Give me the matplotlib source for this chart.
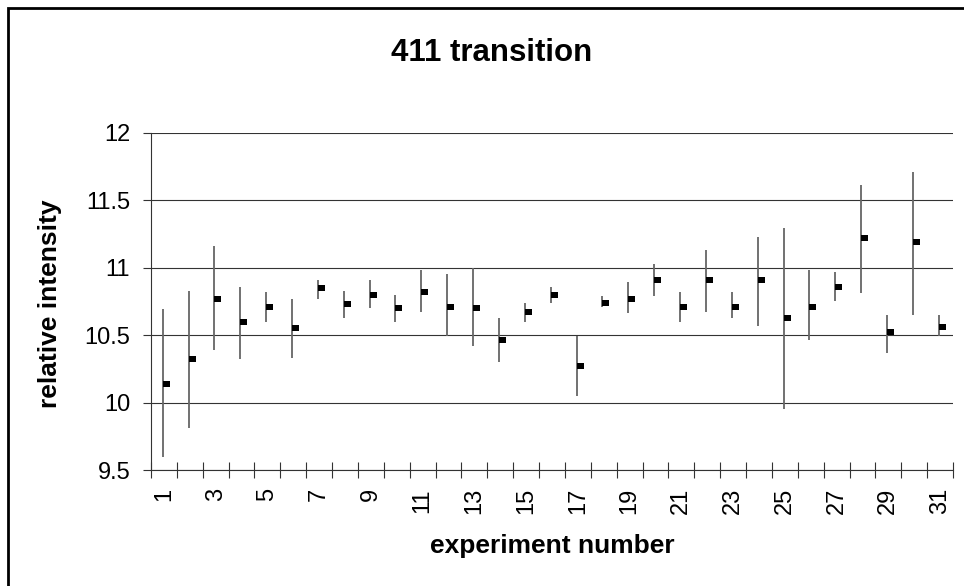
import numpy as np
import matplotlib.pyplot as plt
from matplotlib.path import Path
from matplotlib.patches import Rectangle

plt.rcParams['font.family'] = ['Liberation Sans', 'DejaVu Sans']

# data (high / low / close per experiment)
experiment = np.arange(1, 32)
high = [10.69, 10.83, 11.16, 10.86, 10.82, 10.77, 10.91, 10.83, 10.91, 10.80,
        10.98, 10.95, 11.00, 10.63, 10.74, 10.86, 10.49, 10.79, 10.89, 11.03,
        10.82, 11.13, 10.82, 11.23, 11.29, 10.98, 10.97, 11.61, 10.65, 11.71,
        10.65]
low = [9.60, 9.81, 10.39, 10.32, 10.60, 10.33, 10.77, 10.63, 10.70, 10.60,
       10.67, 10.49, 10.42, 10.30, 10.60, 10.74, 10.05, 10.71, 10.66, 10.79,
       10.60, 10.67, 10.63, 10.57, 9.95, 10.46, 10.75, 10.81, 10.37, 10.65,
       10.49]
close = [10.14, 10.32, 10.77, 10.60, 10.71, 10.55, 10.85, 10.73, 10.80, 10.70,
         10.82, 10.71, 10.70, 10.46, 10.67, 10.80, 10.27, 10.74, 10.77, 10.91,
         10.71, 10.91, 10.71, 10.91, 10.63, 10.71, 10.86, 11.22, 10.52, 11.19,
         10.56]

yticks = [9.5, 10, 10.5, 11, 11.5, 12]
ytick_labels = ['9.5', '10', '10.5', '11', '11.5', '12']
xtick_pos = np.arange(1, 32, 2)
xtick_labels = [str(v) for v in xtick_pos]

W, H = 964, 586
fig = plt.figure(figsize=(W / 100, H / 100), dpi=100)
ax = fig.add_axes([151 / W, 1 - 470 / H, (953 - 151) / W, (470 - 132.7) / H])

# high-low lines
ax.vlines(experiment - 0.05, low, high, color='#666666', lw=1.3, zorder=3)

# close value: small block sticking out to the right of the line
tick_path = Path([(0, -0.4), (1, -0.4), (1, 0.4), (0, 0.4), (0, -0.4)], closed=True)
ax.plot(experiment - 0.05, close, ls='none', marker=tick_path, ms=10.5,
        color='black', mew=0, zorder=4)

ax.set_xlim(0.5, 31.5)
ax.set_ylim(9.5, 12)
ax.set_yticks(yticks, ytick_labels)
ax.set_xticks(xtick_pos, xtick_labels, rotation=90)
ax.set_xticks(np.arange(0.5, 32), minor=True)

ax.tick_params(axis='x', which='major', length=0, pad=13, labelsize=17)
ax.tick_params(axis='x', which='minor', direction='inout', length=11, width=0.8, color='#333333')
ax.tick_params(axis='y', direction='out', length=6, width=0.8, pad=9, labelsize=17, color='#333333')

ax.grid(axis='y', color='#333333', lw=0.8)
ax.set_axisbelow(True)
for side in ['top', 'right']:
    ax.spines[side].set_visible(False)
for side in ['left', 'bottom']:
    ax.spines[side].set_color('#333333')
    ax.spines[side].set_linewidth(0.8)

fig.text(492 / W, 1 - 61 / H, '411 transition', ha='center', va='baseline',
         fontsize=22.5, fontweight='bold')
fig.text(50 / W, 1 - 304 / H, 'relative intensity', ha='center', va='center',
         rotation=90, fontsize=19, fontweight='bold')
fig.text(552 / W, 1 - 553 / H, 'experiment number', ha='center', va='baseline',
         fontsize=19, fontweight='bold')

# chart border (right and bottom edges fall outside the picture)
fig.patches.append(Rectangle((8 / W, -0.1), 1.2, 1 - 8 / H + 0.1,
                             transform=fig.transFigure, fill=False, ec='black', lw=2))

fig.savefig('out.png', dpi=100)
